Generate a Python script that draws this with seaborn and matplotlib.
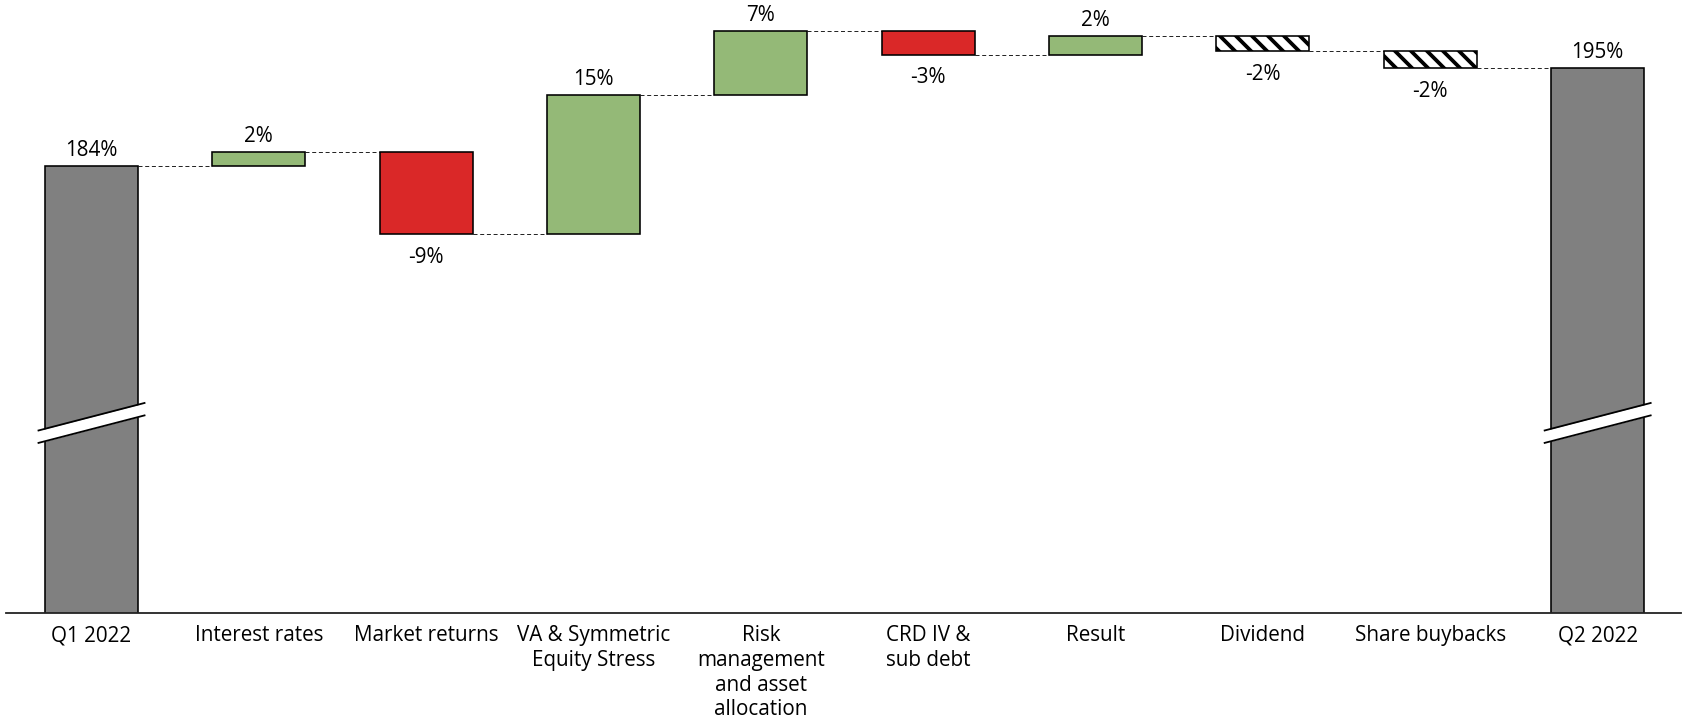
import numpy as np
import pandas as pd
import matplotlib
matplotlib.use("Agg")
import matplotlib.pyplot as plt
import seaborn as sns

# ---------------- data ----------------
categories = ["Q1 2022", "Interest rates", "Market returns",
              "VA & Symmetric\nEquity Stress",
              "Risk\nmanagement\nand asset\nallocation",
              "CRD IV &\nsub debt", "Result", "Dividend",
              "Share buybacks", "Q2 2022"]
start_value = 184.0
end_value = 195.0
step_deltas = [1.55, -9.25, 15.7, 7.2, -2.67, 2.1, -1.69, -1.95]
value_labels = ["184%", "2%", "-9%", "15%", "7%", "-3%", "2%", "-2%", "-2%", "195%"]
bar_kinds = ["total", "up", "down", "up", "up", "down", "up", "pay", "pay", "total"]

# ---------------- styling ----------------
DPI = 96
W_PX, H_PX = 1687, 721


def px(v):
    """pixels -> points"""
    return v * 72.0 / DPI


sns.set_style("white")
plt.rcParams["font.family"] = ["Open Sans", "DejaVu Sans"]
plt.rcParams["hatch.linewidth"] = px(3.8)
plt.rcParams["lines.scale_dashes"] = False

fig = plt.figure(figsize=(W_PX / DPI, H_PX / DPI), dpi=DPI)
axis_px = 612.5
ax = fig.add_axes([6 / W_PX, 1 - axis_px / H_PX, 1675 / W_PX, axis_px / H_PX])

kind_face = {"total": "#808080", "up": "#94B977", "down": "#DA2828", "pay": "white"}
kind_hatch = {"total": None, "up": None, "down": None, "pay": "\\\\"}

FS = px(20.6)

# cumulative levels
levels = [start_value]
for d in step_deltas:
    levels.append(levels[-1] + d)
bases = [0.0] + levels[:-1] + [0.0]
heights = [start_value] + step_deltas + [end_value]
tops = [start_value] + [max(b, b + h) for b, h in zip(levels[:-1], step_deltas)] + [end_value]
bottoms = [None] + [min(b, b + h) for b, h in zip(levels[:-1], step_deltas)] + [None]

df = pd.DataFrame({"step": categories, "height": heights, "base": bases})

bar_w = 0.556
sns.barplot(data=df, x="step", y="height", order=categories, bottom=df["base"].values,
            width=bar_w, errorbar=None, ax=ax, color="#808080", saturation=1,
            edgecolor="black", linewidth=px(1.6), zorder=2)

for patch, kind in zip(ax.patches, bar_kinds):
    patch.set_facecolor(kind_face[kind])
    patch.set_edgecolor("black")
    if kind_hatch[kind]:
        patch.set_hatch(kind_hatch[kind])

# connectors
for i, lvl in enumerate(levels):
    ax.plot([i + bar_w / 2, i + 1 - bar_w / 2], [lvl, lvl], color="#262626",
            linewidth=px(1.0), linestyle=(0, (px(4), px(2.7))), zorder=1)

# value labels
for i, (lab, kind) in enumerate(zip(value_labels, bar_kinds)):
    if kind in ("total", "up"):
        ax.annotate(lab, (i, tops[i]), xytext=(0, px(10)), textcoords="offset points",
                    ha="center", va="baseline", fontsize=FS, color="black")
    else:
        ax.annotate(lab, (i, bottoms[i]), xytext=(0, -px(28.5)), textcoords="offset points",
                    ha="center", va="baseline", fontsize=FS, color="black")

# axis limits
ax.set_ylim(133.7, 202.7)
ax.set_xlim(-0.511, 9.498)

# axis break marks on total bars
break_low, break_gap, break_rise, break_half = 152.78, 1.4, 3.15, 0.322
for i in (0, len(categories) - 1):
    xs = np.array([i - break_half, i + break_half])
    y_lo = np.array([break_low, break_low + break_rise])
    y_hi = y_lo + break_gap
    ax.fill_between(xs, y_lo, y_hi, color="white", zorder=5, linewidth=0)
    ax.plot(xs, y_lo, color="black", linewidth=px(1.8), zorder=6, solid_capstyle="butt")
    ax.plot(xs, y_hi, color="black", linewidth=px(1.8), zorder=6, solid_capstyle="butt")

# axes cosmetics
for side in ("left", "right", "top"):
    ax.spines[side].set_visible(False)
ax.spines["bottom"].set_color("#222222")
ax.spines["bottom"].set_linewidth(px(1.8))
ax.spines["bottom"].set_zorder(7)
ax.set_yticks([])
ax.set_xlabel("")
ax.set_ylabel("")
ax.tick_params(axis="x", length=0, pad=px(12.8), labelsize=FS, labelcolor="black")
for t in ax.get_xticklabels():
    t.set_linespacing(1.23)
ax.grid(False)

fig.savefig("out.png", dpi=DPI)
